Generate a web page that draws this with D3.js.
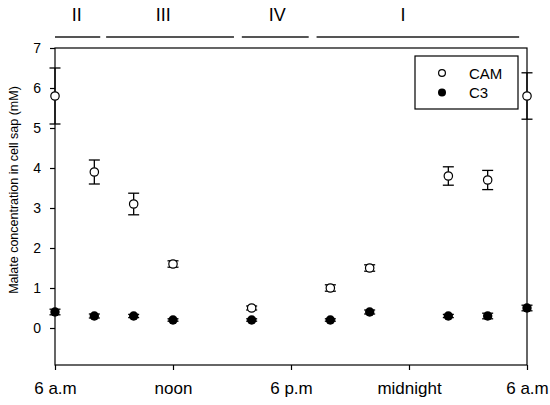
<!DOCTYPE html>
<html>
<head>
<meta charset="utf-8">
<script src="https://cdn.jsdelivr.net/npm/d3@7"></script>
<style>
  body { margin: 0; background: #fff; }
  text { font-family: "Liberation Sans", Arial, sans-serif; fill: #000; }
</style>
</head>
<body>
<div id="chart"></div>
<script>
const width = 550;
const height = 405;
const margin = { top: 48, right: 23, bottom: 40, left: 55 };

// hours after 6 a.m.
const hours = [0, 2, 4, 6, 10, 14, 16, 20, 22, 24];
const camValues = [5.8, 3.9, 3.1, 1.6, 0.5, 1.0, 1.5, 3.8, 3.7, 5.8];
const camErrors = [0.7, 0.3, 0.27, 0.08, 0.05, 0.08, 0.08, 0.23, 0.24, 0.58];
const c3Values = [0.4, 0.3, 0.3, 0.2, 0.2, 0.2, 0.4, 0.3, 0.3, 0.5];
const c3Errors = [0.07, 0.05, 0.04, 0.03, 0.03, 0.03, 0.05, 0.04, 0.07, 0.07];

const xTickHours = [0, 6, 12, 18, 24];
const xTickLabels = ["6 a.m", "noon", "6 p.m", "midnight", "6 a.m"];
const yTicks = [0, 1, 2, 3, 4, 5, 6, 7];

const phaseNames = ["II", "III", "IV", "I"];
const phaseStart = [0, 2.6, 9.5, 13.3];
const phaseEnd = [2.3, 9.1, 12.9, 23.6];
const phaseLabelAt = [1.1, 5.5, 11.3, 17.7];

const svg = d3.select("#chart")
    .append("svg")
    .attr("width", width)
    .attr("height", height);

const x = d3.scaleLinear().domain([0, 24]).range([margin.left, width - margin.right]);
const y = d3.scaleLinear().domain([-0.925, 7]).range([height - margin.bottom, margin.top]);

// frame
svg.append("rect")
    .attr("x", x(0))
    .attr("y", y(7))
    .attr("width", x(24) - x(0))
    .attr("height", y(-0.925) - y(7))
    .attr("fill", "none")
    .attr("stroke", "#000")
    .attr("stroke-width", 1.2);

const xAxis = svg.append("g")
    .attr("transform", `translate(0,${height - margin.bottom})`)
    .call(d3.axisBottom(x).tickValues(xTickHours).tickSize(5).tickPadding(12)
        .tickFormat((d, i) => xTickLabels[i]));
xAxis.select(".domain").remove();
xAxis.selectAll("line").attr("stroke", "#000").attr("stroke-width", 1.2);
xAxis.selectAll("text")
    .style("font-family", '"Liberation Sans", Arial, sans-serif')
    .style("font-size", "17px");

const yAxis = svg.append("g")
    .attr("transform", `translate(${margin.left},0)`)
    .call(d3.axisLeft(y).tickValues(yTicks).tickSize(5).tickPadding(9));
yAxis.select(".domain").remove();
yAxis.selectAll("line").attr("stroke", "#000").attr("stroke-width", 1.2);
yAxis.selectAll("text")
    .style("font-family", '"Liberation Sans", Arial, sans-serif')
    .style("font-size", "14px");

svg.append("text")
    .attr("transform", "rotate(-90)")
    .attr("x", -190)
    .attr("y", 18)
    .attr("text-anchor", "middle")
    .style("font-size", "12.5px")
    .text("Malate concentration in cell sap (mM)");

// phases on top
svg.selectAll(".phase-line")
    .data(phaseNames)
    .enter()
    .append("line")
    .attr("class", "phase-line")
    .attr("x1", (d, i) => x(phaseStart[i]))
    .attr("x2", (d, i) => x(phaseEnd[i]))
    .attr("y1", 37)
    .attr("y2", 37)
    .attr("stroke", "#555")
    .attr("stroke-width", 2);

svg.selectAll(".phase-label")
    .data(phaseNames)
    .enter()
    .append("text")
    .attr("class", "phase-label")
    .attr("x", (d, i) => x(phaseLabelAt[i]))
    .attr("y", 21)
    .attr("text-anchor", "middle")
    .style("font-size", "18px")
    .text(d => d);

function errorBars(values, errors, cls) {
    const g = svg.append("g").attr("class", cls);
    const cap = 5.5;
    hours.forEach((h, i) => {
        const cx = x(h);
        const top = y(values[i] + errors[i]);
        const bot = y(values[i] - errors[i]);
        g.append("line").attr("x1", cx).attr("x2", cx).attr("y1", top).attr("y2", bot);
        g.append("line").attr("x1", cx - cap).attr("x2", cx + cap).attr("y1", top).attr("y2", top);
        g.append("line").attr("x1", cx - cap).attr("x2", cx + cap).attr("y1", bot).attr("y2", bot);
    });
    g.selectAll("line").attr("stroke", "#000").attr("stroke-width", 1.3);
}

errorBars(camValues, camErrors, "cam-err");
errorBars(c3Values, c3Errors, "c3-err");

svg.selectAll(".cam")
    .data(camValues)
    .enter()
    .append("circle")
    .attr("class", "cam")
    .attr("cx", (d, i) => x(hours[i]))
    .attr("cy", d => y(d))
    .attr("r", 4.2)
    .attr("fill", "#fff")
    .attr("stroke", "#000")
    .attr("stroke-width", 1.2);

svg.selectAll(".c3")
    .data(c3Values)
    .enter()
    .append("circle")
    .attr("class", "c3")
    .attr("cx", (d, i) => x(hours[i]))
    .attr("cy", d => y(d))
    .attr("r", 4.7)
    .attr("fill", "#000");

// legend
const legend = svg.append("g");
legend.append("rect")
    .attr("x", 415)
    .attr("y", 56)
    .attr("width", 103)
    .attr("height", 53)
    .attr("fill", "#fff")
    .attr("stroke", "#000")
    .attr("stroke-width", 1.2);
legend.append("circle").attr("cx", 442).attr("cy", 73).attr("r", 3.4)
    .attr("fill", "#fff").attr("stroke", "#000").attr("stroke-width", 1.2);
legend.append("circle").attr("cx", 442).attr("cy", 92.5).attr("r", 4)
    .attr("fill", "#000");
legend.append("text").attr("x", 469).attr("y", 78.5).style("font-size", "15px").text("CAM");
legend.append("text").attr("x", 469).attr("y", 97.5).style("font-size", "15px").text("C3");
</script>
</body>
</html>
